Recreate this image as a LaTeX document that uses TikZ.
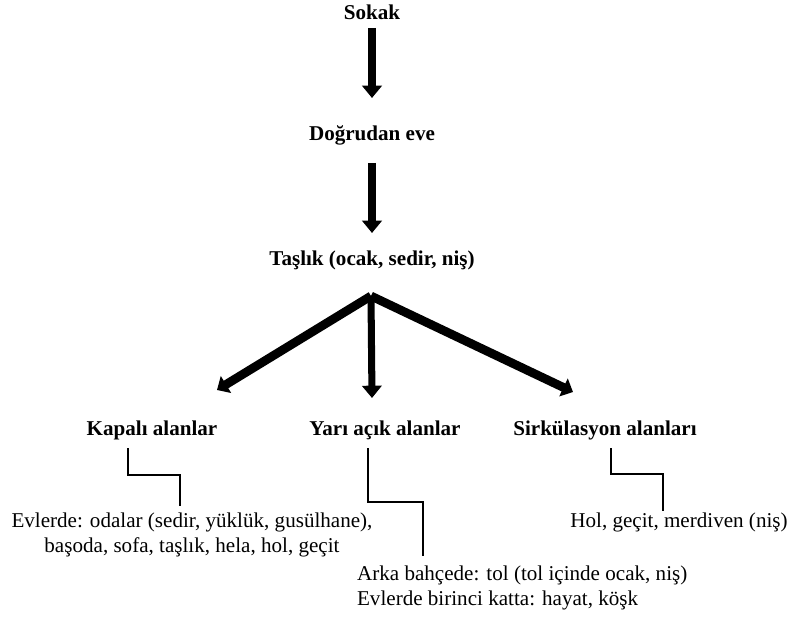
\documentclass[tikz,border=0pt]{standalone}
\usepackage{fontspec}
\setmainfont{Liberation Serif}
\usepackage{tikz}
\usetikzlibrary{positioning, calc, arrows.meta}

\tikzset{
  baslik/.style={font=\fontsize{12}{14}\selectfont\bfseries, inner sep=1pt},
  metin/.style={font=\fontsize{12}{14.2}\selectfont, inner sep=1pt},
  kalinok/.style={line width=4pt, -{Triangle[length=7pt, width=11pt]}},
  egikok/.style={line width=5pt, -{Triangle[length=6pt, width=11pt]}},
  basamak/.style={line width=1.6pt, line cap=rect}
}

\begin{document}
\begin{tikzpicture}[x=0.02cm, y=-0.02cm]
  \useasboundingbox (0,0) rectangle (792,617);

  \node[baslik] (sokak)    at (372,12)  {Sokak};
  \node[baslik] (dogrudan) at (372,135) {Doğrudan eve};
  \node[baslik] (taslik)   at (372,260) {Taşlık (ocak, sedir, niş)};

  \node[baslik] (kapali) at (152,430) {Kapalı alanlar};
  \node[baslik] (yari)   at (385,430) {Yarı açık alanlar};
  \node[baslik] (sirk)   at (605,430) {Sirkülasyon alanları};

  \node[metin, align=center] (kapalimetin) at (192,535)
    {Evlerde: odalar (sedir, yüklük, gusülhane),\\ başoda, sofa, taşlık, hela, hol, geçit};
  \node[metin, align=left, anchor=west] (yarimetin) at (355,588)
    {Arka bahçede: tol (tol içinde ocak, niş)\\ Evlerde birinci katta: hayat, köşk};
  \node[metin] (sirkmetin) at (679,522) {Hol, geçit, merdiven (niş)};

  % dikey oklar
  \coordinate (ok1) at (372,28);
  \coordinate (ok2) at (372,163);
  \draw[kalinok] (ok1) -- (ok1 |- 0,98);
  \draw[kalinok] (ok2) -- (ok2 |- 0,233);

  % catal
  \coordinate (catal) at (371,296);
  \draw[egikok] (catal) -- (217,390);
  \draw[kalinok] (catal) -- (372,398);
  \draw[egikok] (catal) -- (573,392);

  % basamaklar
  \draw[basamak] (kapali.south -| 128,0) ++(0,8) |- (180,475) -- (180,505);
  \draw[basamak] (yari.south -| 368,0) ++(0,8) |- (423,502) -- (423,555);
  \draw[basamak] (sirk.south -| 611,0) ++(0,8) |- (663,474) -- (663,510);
\end{tikzpicture}
\end{document}
